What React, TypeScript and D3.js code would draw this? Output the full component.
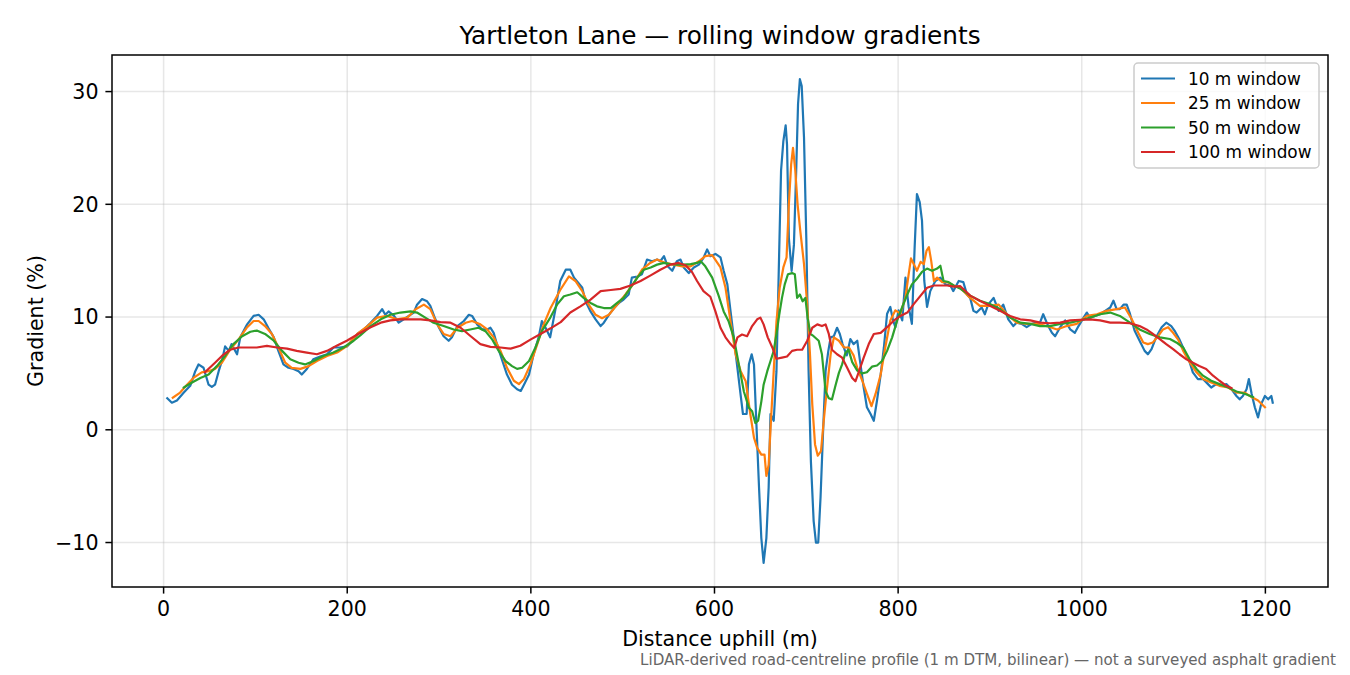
import React from 'react';
import * as d3 from 'd3';

type Pt = [number, number];

// [distance uphill (m), gradient (%)]
const win10: Pt[] = [
  [4, 2.8], [9, 2.4], [14.5, 2.6], [22, 3.3], [29, 3.9], [34.5, 5.2], [38, 5.8], [43.5, 5.5], [49, 4.0], [52.5, 3.8],
  [56, 4.0], [60, 5.2], [63.5, 6.1], [67, 7.4], [71, 7.0], [74, 7.6], [80, 6.7], [83.5, 8.2], [91, 9.35], [98, 10.1],
  [103.5, 10.2], [109, 9.8], [114, 9.05], [120, 8.2], [125, 7.0], [130.5, 5.8], [136, 5.5], [141.5, 5.4], [147, 5.2], [150.5, 4.9],
  [156, 5.4], [163, 6.25], [170.5, 6.5], [178, 6.7], [185, 7.3], [192, 7.3], [200, 7.4], [207, 8.0], [211, 8.5], [218, 8.9],
  [225.5, 9.5], [232.5, 10.1], [238, 10.7], [241.5, 10.2], [245, 10.5], [251, 10.1], [256, 9.5], [261.5, 9.8], [267, 10.1], [272.5, 10.4],
  [276, 11.1], [281.5, 11.6], [287, 11.4], [290.5, 11.0], [296, 9.8], [300, 9.05], [305, 8.3], [310.5, 7.9], [314, 8.2], [320, 9.2],
  [327, 9.65], [332.5, 10.2], [336, 10.1], [341.5, 9.35], [347, 8.9], [352.5, 8.9], [356, 9.05], [359.5, 8.6], [363, 7.6], [369, 6.1],
  [374, 4.9], [379.5, 4.0], [385, 3.6], [389, 3.45], [392.5, 4.0], [398, 4.9], [403, 6.7], [408.5, 8.2], [412, 9.65], [416, 9.05],
  [421, 8.2], [427, 10.8], [432, 13.2], [438, 14.2], [443, 14.2], [447, 13.5], [452, 13.0], [456, 12.6], [459.5, 11.4], [465, 10.5],
  [470.5, 9.8], [476, 9.2], [479.5, 9.5], [485, 10.2], [490.5, 10.8], [496, 11.25], [501, 11.55], [506.5, 12.0], [510, 13.5], [516, 13.6],
  [521, 13.8], [526.5, 15.1], [532, 14.95], [537.5, 15.1], [541, 14.95], [545, 15.4], [549, 14.5], [554, 14.1], [559, 14.95], [563, 15.1],
  [566.5, 14.4], [572, 13.9], [577.5, 14.4], [583, 14.65], [588, 15.25], [592, 16.0], [595.5, 15.4], [601, 15.6], [606.5, 15.3], [610, 14.1],
  [614, 12.9], [617.5, 10.5], [621, 8.2], [624.5, 5.8], [628, 3.4], [631, 1.4], [635, 1.4], [637.5, 5.8], [640.5, 6.7], [643, 5.8],
  [645.5, 0.8], [648.5, -5.1], [651, -9.6], [653.5, -11.8], [656.5, -9.6], [659, -5.1], [661, 1.4], [664.5, 0.8], [667.5, 5.2], [670, 14.1],
  [672.5, 23.0], [675, 25.6], [677.5, 27.0], [679, 25.3], [681, 17.0], [684, 14.1], [686.5, 16.4], [689, 23.0], [691, 28.9], [693, 31.1],
  [695, 30.5], [697.5, 25.9], [700, 17.0], [702.5, 5.2], [705, -2.8], [708, -8.1], [710.5, -10.0], [713, -10.0], [715.5, -6.0], [718, -0.7],
  [721, 5.2], [724, 7.0], [726.5, 8.2], [730, 8.3], [733.5, 9.05], [736.5, 8.5], [739.5, 7.6], [744, 6.6], [748, 8.05], [751.5, 7.6],
  [755.5, 7.9], [759, 5.8], [762.5, 3.75], [766, 2.0], [770, 1.4], [773.5, 0.8], [777, 2.6], [781, 4.9], [784.5, 7.3], [788, 10.3],
  [791.5, 10.9], [794.5, 9.7], [797, 9.1], [800.5, 10.6], [804.5, 9.7], [808, 13.5], [811.5, 10.9], [815, 9.4], [818, 16.2], [820.5, 20.9],
  [823.5, 20.2], [826, 18.55], [828.5, 13.2], [831.5, 10.9], [835, 12.3], [840.5, 13.2], [846, 13.5], [851.5, 12.9], [857, 12.8], [860, 12.3],
  [866, 13.2], [871, 13.1], [875, 12.0], [878.5, 11.7], [882, 10.55], [885.5, 10.4], [891, 10.85], [894.5, 10.25], [898, 11.1], [904, 11.7],
  [909.5, 10.55], [914.5, 11.1], [920, 9.8], [925.5, 9.2], [929, 9.5], [934.5, 9.4], [940, 9.1], [945.5, 9.4], [951, 9.5], [954.5, 9.5],
  [958, 10.25], [963.5, 9.2], [967.5, 8.6], [971, 8.3], [976.5, 9.1], [982, 9.7], [987.5, 8.9], [992.5, 8.6], [996.5, 9.2], [1002, 9.95],
  [1005.5, 10.4], [1009, 9.95], [1014.5, 10.1], [1020, 10.25], [1025.5, 10.55], [1031, 10.85], [1034.5, 11.45], [1038, 10.7], [1041.5, 10.7], [1045.5, 11.1],
  [1049, 11.1], [1052.5, 10.3], [1057.5, 8.8], [1063, 7.9], [1068.5, 7.0], [1072, 6.7], [1076, 7.15], [1081, 8.2], [1087, 9.1], [1092, 9.5],
  [1097.5, 9.2], [1101, 8.8], [1106.5, 8.0], [1112, 7.0], [1117.5, 6.0], [1121, 5.1], [1126.5, 4.5], [1132, 4.5], [1137.5, 4.05], [1141, 3.75],
  [1146.5, 4.05], [1152, 3.9], [1157.5, 4.05], [1163, 3.6], [1168.5, 3.0], [1172, 2.7], [1175.5, 3.0], [1179.5, 3.6], [1182, 4.5], [1185, 3.2],
  [1188.5, 2.0], [1192, 1.1], [1195.5, 2.3], [1199.5, 3.0], [1203, 2.7], [1206.5, 3.0], [1208, 2.4],
];

const win25: Pt[] = [
  [10, 2.85], [18, 3.3], [25.5, 4.0], [32.5, 4.6], [41.5, 5.1], [49, 5.2], [56, 5.4], [63.5, 5.95], [72.5, 7.1], [81.5, 8.0],
  [90.5, 9.05], [98, 9.65], [103.5, 9.65], [110.5, 9.2], [118, 8.5], [125, 7.3], [132.5, 5.95], [139.5, 5.5], [149, 5.4], [158, 5.65],
  [167, 6.1], [178, 6.55], [189, 6.85], [200, 7.45], [211, 8.5], [222, 9.2], [232.5, 9.95], [243.5, 10.1], [254.5, 9.8], [265.5, 9.95],
  [274.5, 10.7], [283.5, 11.1], [290.5, 10.7], [298, 9.35], [305, 8.5], [312.5, 8.3], [320, 9.05], [329, 9.5], [336, 9.65], [345, 9.35],
  [352.5, 8.9], [359.5, 8.2], [367, 7.0], [374, 5.5], [381.5, 4.35], [387, 4.05], [392.5, 4.5], [399.5, 5.8], [407, 7.6], [414, 9.35],
  [421.5, 10.8], [432, 12.4], [441.5, 13.6], [448.5, 13.2], [456, 12.3], [463, 11.1], [470.5, 10.2], [477.5, 9.9], [485, 10.2], [494, 11.1],
  [503, 12.0], [512, 13.0], [521, 14.2], [530, 14.8], [537.5, 15.1], [546.5, 14.8], [555.5, 14.65], [565, 14.5], [574, 14.5], [583, 14.95],
  [590, 15.4], [597.5, 15.5], [606.5, 14.4], [612, 12.6], [617.5, 9.6], [623, 6.7], [628.5, 5.2], [634, 4.3], [639, 1.4], [643, -0.7],
  [646.5, -1.6], [651, -2.2], [654.5, -2.2], [656.5, -4.1], [659, -3.1], [661.5, 0.8], [664.5, 5.2], [667.5, 9.6], [671, 12.6], [675, 14.4],
  [678.5, 15.3], [681, 20.0], [683.5, 23.55], [685.5, 25.0], [688, 23.0], [690.5, 20.0], [693.5, 17.6], [697.5, 14.7], [701, 11.1], [704, 6.7],
  [706.5, 2.25], [709.5, -1.3], [712.5, -2.3], [716, -1.9], [719, 0.8], [722.5, 3.7], [726.5, 6.7], [730, 8.2], [735.5, 7.9], [741, 7.3],
  [746.5, 7.3], [751.5, 6.6], [755.5, 5.5], [761, 4.35], [766, 3.2], [771, 2.1], [775.5, 3.2], [781, 4.9], [786, 7.3], [791.5, 9.7],
  [797, 10.6], [802.5, 10.3], [808, 11.75], [811.5, 13.8], [814, 15.2], [817, 14.7], [820.5, 14.1], [824.5, 14.9], [828, 14.7], [831, 15.9],
  [833.5, 16.2], [836, 15.0], [839, 13.2], [842.5, 13.5], [848, 13.1], [853.5, 13.1], [860.5, 12.8], [867.5, 12.6], [878.5, 11.7], [889, 11.0],
  [900, 11.0], [909.5, 11.1], [918.5, 10.25], [929, 9.5], [940, 9.4], [951, 9.4], [962, 9.2], [973, 8.9], [983.5, 9.2], [994.5, 9.4],
  [1005.5, 10.1], [1016.5, 10.25], [1027, 10.55], [1038, 10.7], [1047, 10.85], [1054.5, 9.8], [1061.5, 8.6], [1067, 7.75], [1072, 7.6], [1077.5, 7.75],
  [1083, 8.3], [1088.5, 8.9], [1094, 9.1], [1099.5, 8.6], [1105, 8.0], [1110.5, 7.0], [1117.5, 6.0], [1125, 5.1], [1132, 4.5], [1141, 4.2],
  [1150, 3.9], [1159.5, 3.75], [1168.5, 3.3], [1177.5, 3.3], [1185, 2.9], [1192, 2.6], [1199.5, 2.0],
];

const win50: Pt[] = [
  [22, 3.75], [31, 4.2], [40, 4.6], [49, 4.9], [58, 5.65], [67, 6.55], [76, 7.6], [85.5, 8.3], [94.5, 8.7], [101.5, 8.8],
  [110.5, 8.5], [120, 7.9], [129, 7.0], [138, 6.25], [147, 5.95], [154, 5.8], [163.5, 6.1], [174, 6.55], [185, 6.85], [196, 7.3],
  [207, 7.9], [214.5, 8.4], [225.5, 9.2], [236.5, 9.8], [247, 10.2], [258, 10.4], [269, 10.5], [276, 10.4], [285, 9.95], [294, 9.5],
  [305, 9.2], [316, 8.9], [325, 8.75], [334, 8.9], [343, 9.05], [350.5, 8.75], [358, 8.0], [365, 7.0], [372.5, 6.1], [379.5, 5.65],
  [385, 5.4], [390.5, 5.5], [398, 6.1], [405, 7.3], [412, 8.75], [421.5, 10.0], [428.5, 11.1], [436, 11.85], [443, 12.0], [450.5, 12.2],
  [457.5, 11.7], [465, 11.25], [472, 10.95], [479.5, 10.8], [487, 10.8], [494, 11.25], [501, 11.7], [508.5, 12.6], [516, 13.5], [523, 14.2],
  [530.5, 14.4], [537.5, 14.65], [545, 14.8], [552, 14.7], [559.5, 14.65], [566.5, 14.65], [574, 14.7], [581, 14.8], [585, 14.95], [590, 14.5],
  [597.5, 13.5], [604.5, 11.9], [610, 10.5], [615.5, 9.6], [621, 8.2], [626.5, 5.8], [632, 3.4], [637.5, 1.95], [641, 1.65], [644.5, 0.6],
  [647.5, 0.8], [651, 2.5], [653.5, 4.0], [657.5, 5.2], [661, 6.1], [664.5, 7.0], [667.5, 8.5], [670.5, 10.2], [673.5, 11.7], [676.5, 12.9],
  [680, 13.8], [684.5, 13.9], [687.5, 13.8], [690, 11.7], [693, 12.0], [696, 11.4], [699, 11.7], [701.5, 9.9], [704.5, 8.5], [708, 8.3],
  [713.5, 7.9], [717, 6.7], [721, 3.4], [724.5, 2.8], [728, 2.7], [732, 4.0], [735.5, 5.05], [739, 5.8], [742.5, 6.8], [746, 7.1],
  [750, 6.0], [755.5, 5.25], [761, 5.0], [766, 5.1], [771.5, 5.6], [777, 5.7], [782.5, 6.1], [788, 7.0], [793.5, 8.2], [799, 9.7],
  [804.5, 10.9], [810, 12.0], [815, 12.9], [820.5, 13.4], [826, 14.0], [831.5, 14.3], [837, 14.1], [842.5, 14.3], [846, 14.55], [849.5, 13.2],
  [855, 13.1], [860.5, 12.8], [868, 12.5], [878.5, 11.9], [889, 11.45], [900, 11.15], [911, 10.7], [922, 9.95], [933, 9.5], [944, 9.4],
  [954.5, 9.2], [965.5, 9.2], [976.5, 9.4], [987.5, 9.5], [998, 9.7], [1009, 9.95], [1020, 10.25], [1031, 10.4], [1041.5, 10.1], [1052.5, 9.5],
  [1063, 8.9], [1074, 8.5], [1085, 8.2], [1096, 8.05], [1103, 7.75], [1110.5, 7.3], [1117.5, 6.25], [1125, 5.4], [1132, 4.8], [1141, 4.35],
  [1150, 4.05], [1159.5, 3.75], [1168.5, 3.4], [1177.5, 3.2], [1186.5, 2.9],
];

const win100: Pt[] = [
  [45, 5.1], [56, 5.95], [63.5, 6.55], [72.5, 7.1], [81.5, 7.3], [90.5, 7.3], [101.5, 7.3], [112.5, 7.45], [123.5, 7.3], [134.5, 7.2],
  [145, 7.0], [156, 6.85], [167, 6.7], [178, 7.0], [188.5, 7.45], [199.5, 7.9], [212, 8.5], [225.5, 9.1], [236.5, 9.5], [247, 9.7],
  [258, 9.8], [269, 9.8], [280, 9.8], [290.5, 9.7], [301.5, 9.55], [312.5, 9.5], [323.5, 9.05], [334.5, 8.3], [345, 7.6], [356, 7.35],
  [367, 7.3], [378, 7.2], [388.5, 7.45], [399.5, 8.0], [410.5, 8.5], [421.5, 9.0], [432.5, 9.55], [443, 10.4], [454, 10.95], [465, 11.55],
  [476, 12.3], [487, 12.4], [497.5, 12.5], [508.5, 12.8], [519.5, 13.2], [530.5, 13.7], [541, 14.2], [552, 14.65], [561, 14.8], [568.5, 14.6],
  [575.5, 14.0], [581, 13.2], [588, 12.3], [595.5, 11.8], [601, 10.5], [606.5, 9.05], [612, 8.2], [617.5, 7.6], [621.5, 7.25], [625, 8.2],
  [630, 8.45], [635.5, 8.3], [641, 9.2], [646.5, 9.8], [650, 9.95], [653.5, 9.35], [658, 8.2], [663, 7.3], [667.5, 6.3], [673.5, 6.4],
  [679, 6.5], [684.5, 7.0], [690, 7.1], [695.5, 7.1], [701, 7.9], [706.5, 9.05], [712, 9.35], [717, 9.2], [721, 9.35], [724.5, 8.5],
  [728, 7.1], [733.5, 6.7], [739, 6.4], [744.5, 5.5], [750, 4.6], [753.5, 4.3], [757, 5.1], [762.5, 6.4], [768, 7.6], [773.5, 8.5],
  [781, 8.6], [788, 9.1], [795.5, 9.7], [802.5, 10.1], [810, 10.4], [817, 11.15], [824.5, 11.9], [831.5, 12.6], [839, 12.8], [846, 12.8],
  [853.5, 12.8], [860.5, 12.7], [867.5, 12.75], [878.5, 11.9], [889, 11.45], [900, 11.0], [911, 10.55], [922, 10.1], [933, 9.8], [944, 9.7],
  [954.5, 9.5], [965.5, 9.45], [976.5, 9.5], [987.5, 9.7], [998, 9.75], [1009, 9.8], [1020, 9.7], [1031, 9.5], [1041.5, 9.5], [1052.5, 9.45],
  [1063, 9.2], [1070.5, 8.9], [1077.5, 8.5], [1085, 8.05], [1092, 7.6], [1099.5, 7.15], [1106.5, 6.7], [1114, 6.25], [1121, 5.95], [1128, 5.65],
  [1135.5, 5.4], [1143, 4.8], [1150, 4.35], [1157.5, 3.9], [1163, 3.7],
];

const seriesNames = ['10 m window', '25 m window', '50 m window', '100 m window'];
const seriesColors = ['#1f77b4', '#ff7f0e', '#2ca02c', '#d62728'];
const xTicks = [0, 200, 400, 600, 800, 1000, 1200];
const yTicks = [-10, 0, 10, 20, 30];

const W = 1350;
const H = 675;
const M = { top: 55, right: 22, bottom: 88, left: 112 };
const FONT = '"DejaVu Sans", sans-serif';

// matplotlib-style 5% margin around the data
const padded = (vals: number[]) => {
  const [lo, hi] = d3.extent(vals) as [number, number];
  const p = (hi - lo) * 0.05;
  return [lo - p, hi + p];
};

export default function App() {
  const series = [win10, win25, win50, win100];
  const all = series.flat();

  const x = d3.scaleLinear().domain(padded(all.map(d => d[0]))).range([M.left, W - M.right]);
  const y = d3.scaleLinear().domain(padded(all.map(d => d[1]))).range([H - M.bottom, M.top]);
  const fmt = d3.format('d');

  const line = d3.line<Pt>().x(d => x(d[0])).y(d => y(d[1]));

  const x0 = M.left, x1 = W - M.right, y0 = M.top, y1 = H - M.bottom;
  const midX = (x0 + x1) / 2;

  return (
    <svg width={W} height={H} style={{ position: 'absolute', left: 0, top: 0, background: '#fff' }}
      fontFamily={FONT}>
      <rect width={W} height={H} fill="#fff" />

      {/* grid */}
      {xTicks.map(t => (
        <line key={'gx' + t} x1={x(t)} x2={x(t)} y1={y0} y2={y1} stroke="#b0b0b0" strokeOpacity={0.3} strokeWidth={1.5} />
      ))}
      {yTicks.map(t => (
        <line key={'gy' + t} x1={x0} x2={x1} y1={y(t)} y2={y(t)} stroke="#b0b0b0" strokeOpacity={0.3} strokeWidth={1.5} />
      ))}

      {/* series */}
      {series.map((s, i) => (
        <path key={seriesNames[i]} d={line(s) ?? ''} fill="none" stroke={seriesColors[i]}
          strokeWidth={2.2} strokeLinejoin="round" strokeLinecap="square" />
      ))}

      {/* frame */}
      <rect x={x0} y={y0} width={x1 - x0} height={y1 - y0} fill="none" stroke="#000" strokeWidth={1.5} />

      {/* x ticks */}
      {xTicks.map(t => (
        <g key={'tx' + t}>
          <line x1={x(t)} x2={x(t)} y1={y1} y2={y1 + 6.6} stroke="#000" strokeWidth={1.5} />
          <text x={x(t)} y={y1 + 29} textAnchor="middle" fontSize={20.6} fill="#000">{fmt(t)}</text>
        </g>
      ))}
      {/* y ticks */}
      {yTicks.map(t => (
        <g key={'ty' + t}>
          <line x1={x0 - 6.6} x2={x0} y1={y(t)} y2={y(t)} stroke="#000" strokeWidth={1.5} />
          <text x={x0 - 13.5} y={y(t) + 7.4} textAnchor="end" fontSize={20.6} fill="#000">{fmt(t)}</text>
        </g>
      ))}

      {/* labels */}
      <text x={midX} y={44} textAnchor="middle" fontSize={24.75} fill="#000">
        Yartleton Lane — rolling window gradients
      </text>
      <text x={midX} y={646} textAnchor="middle" fontSize={20.6} fill="#000">Distance uphill (m)</text>
      <text transform={`translate(43, ${(y0 + y1) / 2}) rotate(-90)`} textAnchor="middle" fontSize={20.6} fill="#000">
        Gradient (%)
      </text>
      <text x={1336} y={665} textAnchor="end" fontSize={15.1} fill="#666">
        LiDAR-derived road-centreline profile (1 m DTM, bilinear) — not a surveyed asphalt gradient
      </text>

      {/* legend */}
      <g transform="translate(1134, 63)">
        <rect x={0} y={0} width={185} height={105} rx={4} fill="#fff" fillOpacity={0.8} stroke="#cccccc" strokeWidth={1.5} />
        {seriesNames.map((n, i) => (
          <g key={n} transform={`translate(0, ${15.5 + i * 24.5})`}>
            <line x1={7} x2={41} y1={0} y2={0} stroke={seriesColors[i]} strokeWidth={2.2} />
            <text x={54} y={6} fontSize={16.9} fill="#000">{n}</text>
          </g>
        ))}
      </g>
    </svg>
  );
}
